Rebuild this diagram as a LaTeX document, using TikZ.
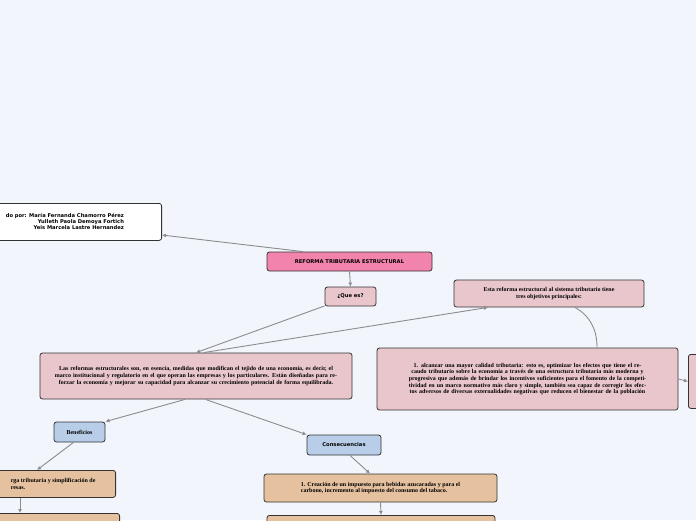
\documentclass[tikz,border=0pt]{standalone}
\usepackage{fontspec}
\setmainfont{Liberation Serif}
\newfontfamily\verd{DejaVu Sans}
\definecolor{fondo}{HTML}{F2F5FC}
\definecolor{rosa}{HTML}{F283AC}
\definecolor{malva}{HTML}{E8C6CC}
\definecolor{azul}{HTML}{B8CDE7}
\definecolor{arena}{HTML}{E5C19F}
\definecolor{flecha}{HTML}{8C8C8C}
\tikzset{
  caja/.style={draw=black!80, line width=0.8pt, rounded corners=2.5pt, inner sep=2pt, align=center, font=\bfseries\fontsize{6}{6.6}\selectfont},
  sans/.style={font=\verd\bfseries\fontsize{5.2}{6}\selectfont},
  conector/.style={draw=flecha, line width=0.9pt, -{Latex[length=4pt,width=4pt]}}
}
\usetikzlibrary{arrows.meta}
\begin{document}
\begin{tikzpicture}[x=1pt,y=-1pt]
  % fondo
  \fill[fondo] (0,0) rectangle (696,520);
  \useasboundingbox (0,0) rectangle (696,520);

  % cajas
  \node[caja, sans, fill=white, minimum width=170, minimum height=37, align=right, anchor=north east] (autor) at (162,203)
    {\llap{do por: }María Fernanda Chamorro Pérez\\Yulleth Paola Demoya Fortich\\Yeis Marcela Lastre Hernandez};
  \node[caja, sans, fill=rosa, minimum width=165, minimum height=19] (reforma) at (349.5,261.5) {REFORMA TRIBUTARIA ESTRUCTURAL};
  \node[caja, sans, fill=malva, minimum width=51, minimum height=19] (quees) at (350.5,296.5) {¿Que es?};
  \node[caja, fill=malva, minimum width=312, minimum height=46, text width=300] (reformas) at (196,376)
    {Las reformas estructurales son, en esencia, medidas que modifican el tejido de una economía, es decir, el marco institucional y regulatorio en el que operan las empresas y los particulares. Están diseñadas para reforzar la economía y mejorar su capacidad para alcanzar su crecimiento potencial de forma equilibrada.};
  \node[caja, fill=malva, minimum width=190, minimum height=27] (objetivos) at (549,293.5)
    {Esta reforma estructural al sistema tributario tiene\\tres objetivos principales:};
  \node[caja, fill=malva, minimum width=301, minimum height=62, text width=292] (calidad) at (527.5,379)
    {1. alcanzar una mayor calidad tributaria: esto es, optimizar los efectos que tiene el recaudo tributario sobre la economía a través de una estructura tributaria más moderna y progresiva que además de brindar los incentivos suficientes para el fomento de la competitividad en un marco normativo más claro y simple, también sea capaz de corregir los efectos adversos de diversas externalidades negativas que reducen el bienestar de la población};
  \node[caja, fill=malva, minimum width=30, minimum height=54, anchor=north west] (otro) at (688,354) {};
  \node[caja, fill=azul, minimum width=51, minimum height=20] (beneficios) at (79.5,432) {Beneficios};
  \node[caja, sans, fill=azul, minimum width=74, minimum height=20] (consec) at (344,445) {Consecuencias};
  \node[caja, fill=arena, minimum width=125, minimum height=27, anchor=north east, align=left] (ben1) at (116,470)
    {rga tributaria y simplificación de\\resas.\hspace*{3.2em}};
  \node[caja, fill=arena, minimum width=130, minimum height=20, anchor=north east] (ben2) at (120,513) {};
  \node[caja, fill=arena, minimum width=233, minimum height=28, align=left] (imp1) at (380.5,488)
    {1. Creación de un impuesto para bebidas azucaradas y para el\\carbono, incremento al impuesto del consumo del tabaco.};
  \node[caja, fill=arena, minimum width=228, minimum height=20, anchor=north] (imp2) at (381,515) {};

  % conectores
  \draw[conector] (reforma.168) -- (autor.south east |- 0,235);
  \draw[conector] (reforma.south) -- (quees.north);
  \draw[conector] (quees.200) -- (reformas.north);
  \draw[conector] (reformas.72) -- (objetivos.south west -| 488,0);
  \draw[draw=flecha, line width=0.9pt] (objetivos.south -| 575,0) to[out=-30, in=90] (calidad.north -| 597,0);
  \draw[conector] (calidad.east) -- (otro.west);
  \draw[conector] (reformas.245) -- (beneficios.north east);
  \draw[conector] (reformas.292) -- (consec.north west);
  \draw[conector] (beneficios.-120) -- (ben1.north -| 37,0);
  \draw[conector] (consec.-60) -- (imp1.north -| 370,0);
  \draw[conector] (ben1.south -| 20,0) -- (ben2.north -| 20,0);
  \draw[conector] (imp1.south) -- (imp2.north);
\end{tikzpicture}
\end{document}
